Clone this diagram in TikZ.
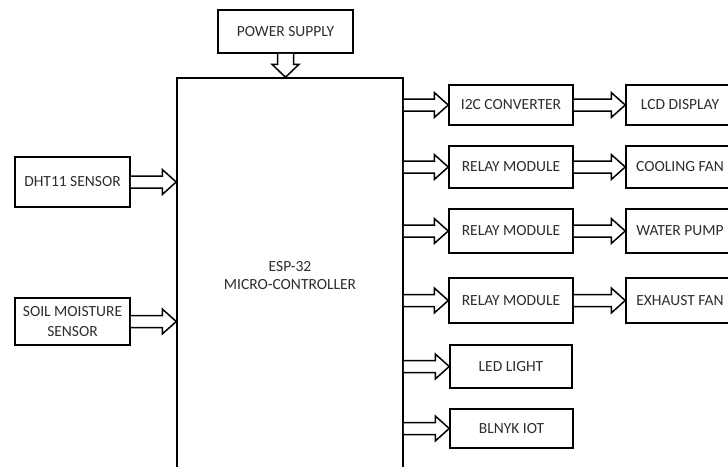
\documentclass[tikz,border=0pt]{standalone}
\usepackage{fontspec}
\setmainfont{Carlito}
\usetikzlibrary{calc}
\definecolor{txt}{HTML}{2E2E2E}
\tikzset{
  blk/.style={draw=black, line width=1.5pt, inner sep=0pt, align=center,
    text=txt, font=\fontsize{15.5}{18}\selectfont},
  harr/.style={draw=black, line width=1.5pt, fill=white, line join=miter}
}
\newcommand\rarrow[2]{%
  \draw[harr] let \p1=(#1), \p2=(#2) in
    (\x1,\y2+6pt) -- (\x2-14pt,\y2+6pt) -- (\x2-14pt,\y2+12.5pt) -- (\x2,\y2)
    -- (\x2-14pt,\y2-12.5pt) -- (\x2-14pt,\y2-6pt) -- (\x1,\y2-6pt);}
\newcommand\darrow[2]{%
  \draw[harr] let \p1=(#1), \p2=(#2) in
    (\x2-8pt,\y1) -- (\x2-8pt,\y2+13pt) -- (\x2-13.5pt,\y2+13pt) -- (\x2,\y2)
    -- (\x2+13.5pt,\y2+13pt) -- (\x2+8pt,\y2+13pt) -- (\x2+8pt,\y1);}
\begin{document}
\begin{tikzpicture}[x=1pt,y=-1pt]
\useasboundingbox (0,0) rectangle (728,466);
\clip (0,0) rectangle (728,466);
\fill[white] (0,0) rectangle (728,466);
% nodes
\node[blk, minimum width=135pt, minimum height=43pt] (ps) at (285.5,31.5) {POWER SUPPLY};
\node[blk, minimum width=226pt, minimum height=396pt] (esp) at (290,276) {ESP-32\\MICRO-CONTROLLER};
\node[blk, minimum width=115pt, minimum height=50pt] (dht) at (72.5,182) {DHT11 SENSOR};
\node[blk, minimum width=115pt, minimum height=47pt, font=\fontsize{15.5}{20}\selectfont] (soil) at (72.5,321.5) {SOIL MOISTURE\\SENSOR};
\node[blk, minimum width=124pt, minimum height=40pt] (i2c) at (511,105) {I2C CONVERTER};
\node[blk, minimum width=108pt, minimum height=40pt] (lcd) at (680,105) {LCD DISPLAY};
\node[blk, minimum width=124pt, minimum height=42pt] (r1) at (511,167) {RELAY MODULE};
\node[blk, minimum width=108pt, minimum height=42pt] (fan) at (680,167) {COOLING FAN};
\node[blk, minimum width=124pt, minimum height=44pt] (r2) at (511,231) {RELAY MODULE};
\node[blk, minimum width=108pt, minimum height=44pt] (pump) at (680,231) {WATER PUMP};
\node[blk, minimum width=124pt, minimum height=45pt] (r3) at (511,300.5) {RELAY MODULE};
\node[blk, minimum width=108pt, minimum height=45pt] (exh) at (680,300.5) {EXHAUST FAN};
\node[blk, minimum width=122pt, minimum height=43pt] (led) at (511,366.5) {LED LIGHT};
\node[blk, minimum width=123pt, minimum height=39pt] (iot) at (511.5,428.5) {BLNYK IOT};
% connectors
\darrow{ps.south}{esp.north -| ps.south}
\rarrow{dht.east}{esp.west |- dht.east}
\rarrow{soil.east}{esp.west |- soil.east}
\rarrow{esp.east |- i2c.west}{i2c.west}
\rarrow{esp.east |- r1.west}{r1.west}
\rarrow{esp.east |- r2.west}{r2.west}
\rarrow{esp.east |- r3.west}{r3.west}
\rarrow{esp.east |- led.west}{led.west}
\rarrow{esp.east |- iot.west}{iot.west}
\rarrow{i2c.east}{lcd.west}
\rarrow{r1.east}{fan.west}
\rarrow{r2.east}{pump.west}
\rarrow{r3.east}{exh.west}
\end{tikzpicture}
\end{document}
